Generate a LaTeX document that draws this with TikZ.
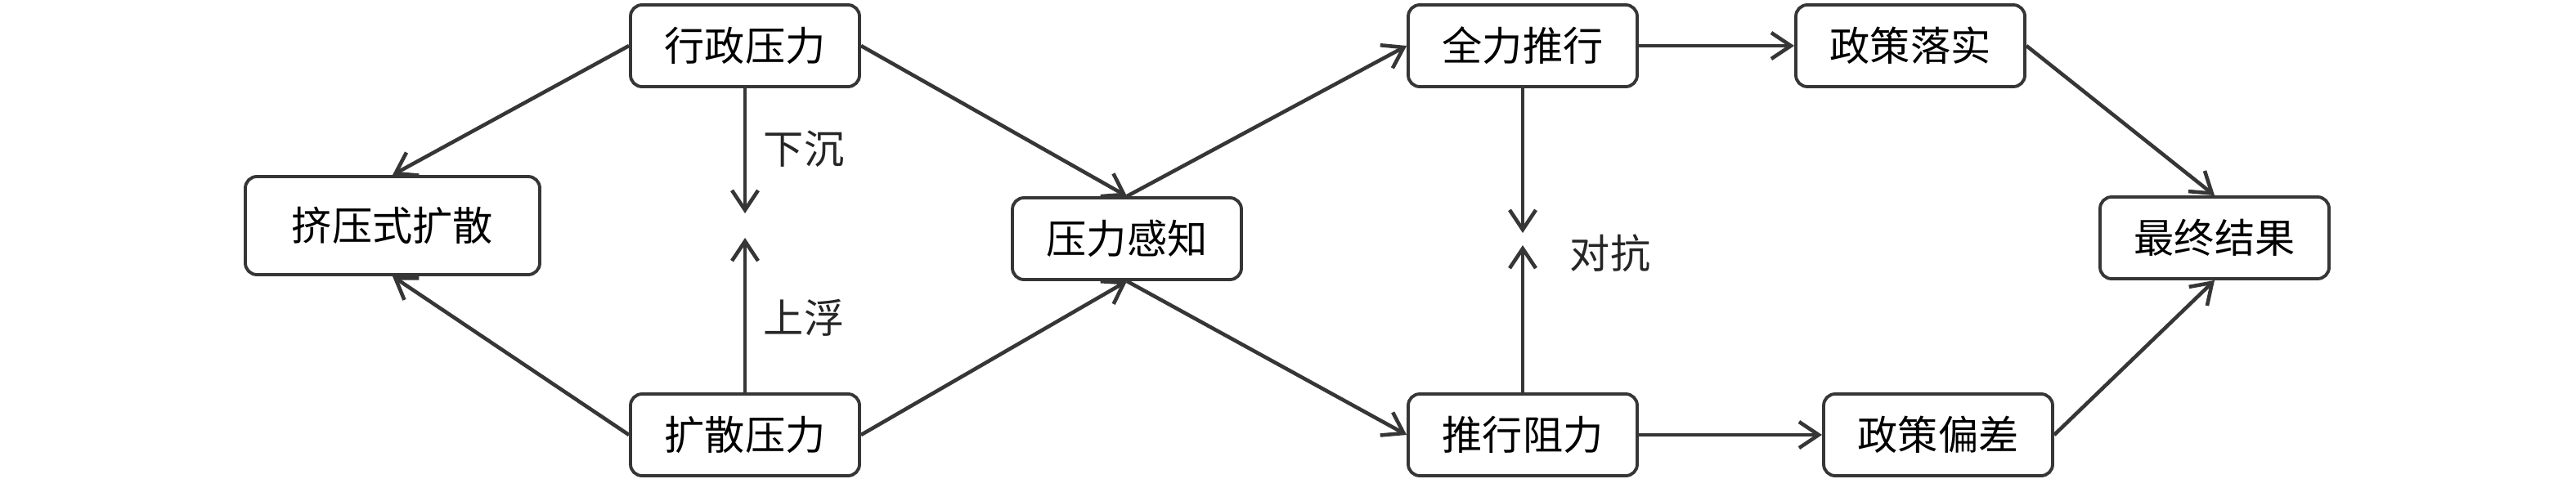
\documentclass[tikz,border=0pt]{standalone}
\usepackage{fontspec}
\newfontfamily\cjkfont{Noto Sans CJK SC}
\usetikzlibrary{positioning,arrows.meta}
\definecolor{linegray}{HTML}{363636}

\begin{document}
\begin{tikzpicture}[
  box/.style={draw=linegray, line width=1.1pt, rounded corners=4pt, fill=white,
              minimum height=1.0cm, minimum width=2.8cm,
              align=center, font=\cjkfont\fontsize{14pt}{16pt}\selectfont},
  bigbox/.style={box, minimum height=1.2cm, minimum width=3.6cm},
  edge/.style={line width=1.3pt, draw=linegray,
               -{Straight Barb[length=2.4mm, width=3.2mm]}},
  lbl/.style={font=\cjkfont\fontsize{14pt}{16pt}\selectfont, text=black!85},
]
\useasboundingbox (0,0) rectangle (31.5,5.85);

% Left part: the two pressures
\node[bigbox] (squeeze) at (4.80, 3.09) {挤压式扩散};
\node[box] (admin) at (9.11, 5.29) {行政压力};
\node[box] (diffuse) at (9.11, 0.53) {扩散压力};

% Middle: perception
\node[box] (perceive) at (13.78, 2.93) {压力感知};

% Push vs. resistance
\node[box] (fullpush) at (18.62, 5.29) {全力推行};
\node[box] (resist) at (18.62, 0.53) {推行阻力};

% Outcomes
\node[box] (implement) at (23.36, 5.29) {政策落实};
\node[box] (deviate) at (23.70, 0.53) {政策偏差};
\node[box] (final) at (27.08, 2.94) {最终结果};

% Meeting points of the vertical arrows
\coordinate (sinkend) at (9.11, 3.24);
\coordinate (floatend) at (9.11, 2.94);
\coordinate (pushend) at (18.62, 3.00);
\coordinate (resistend) at (18.62, 2.85);

% Left edges
\draw[edge] (admin.west) -- (squeeze.north);
\draw[edge] (diffuse.west) -- (squeeze.south);
\draw[edge] (admin.south) -- (sinkend);
\draw[edge] (diffuse.north) -- (floatend);
\node[lbl] (sink) at (9.83, 4.03) {下沉};
\node[lbl] (float) at (9.83, 1.96) {上浮};

% Into and out of perception
\draw[edge] (admin.east) -- (perceive.north);
\draw[edge] (diffuse.east) -- (perceive.south);
\draw[edge] (perceive.north) -- (fullpush.west);
\draw[edge] (perceive.south) -- (resist.west);

% Confrontation
\draw[edge] (fullpush.south) -- (pushend);
\draw[edge] (resist.north) -- (resistend);
\node[lbl] (confront) at (19.69, 2.75) {对抗};

% Right edges
\draw[edge] (fullpush.east) -- (implement.west);
\draw[edge] (resist.east) -- (deviate.west);
\draw[edge] (implement.east) -- (final.north);
\draw[edge] (deviate.east) -- (final.south);

\end{tikzpicture}
\end{document}
